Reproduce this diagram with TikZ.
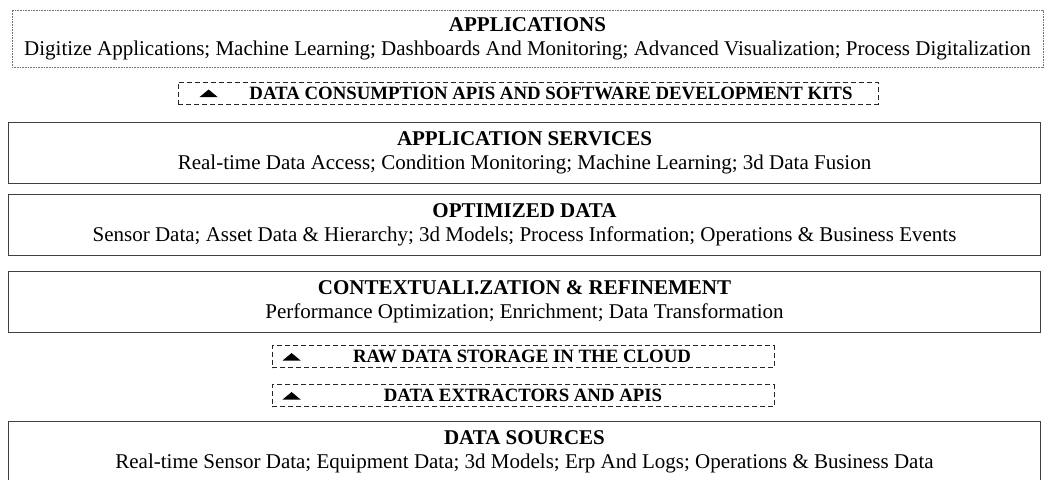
\documentclass[tikz,border=0pt]{standalone}
\usepackage{fontspec}
\setmainfont{Liberation Serif}
\usepackage{tikz}
\usetikzlibrary{calc}

\begin{document}
\begin{tikzpicture}[x=1pt, y=-1pt,
  layer/.style={draw=black!75, line width=0.9pt, minimum width=1032pt, minimum height=61pt,
    inner sep=0pt, align=center, font=\fontsize{21}{24}\selectfont},
  bar/.style={draw=black!85, dash pattern=on 5pt off 3pt, line width=0.8pt, minimum height=22pt, inner sep=0pt},
  barlbl/.style={font=\fontsize{18.8}{20}\selectfont\bfseries, inner sep=0pt}]
\useasboundingbox (0,0) rectangle (1046,479);
% top layer, dotted frame
\node[layer, draw=black!55, dash pattern=on 0.8pt off 0.8pt, minimum width=1031pt, minimum height=57pt] (apps) at (527.5,38.5)
  {\textbf{APPLICATIONS}\\Digitize Applications; Machine Learning; Dashboards And Monitoring; Advanced Visualization; Process Digitalization};
% solid layers
\foreach \n/\y/\t/\b in {
  appsvc/152.5/APPLICATION SERVICES/Real-time Data Access; Condition Monitoring; Machine Learning; 3d Data Fusion,
  optdata/225/OPTIMIZED DATA/Sensor Data; Asset Data \& Hierarchy; 3d Models; Process Information; Operations \& Business Events,
  context/301.5/CONTEXTUALI.ZATION \& REFINEMENT/Performance Optimization; Enrichment; Data Transformation,
  sources/451.5/DATA SOURCES/Real-time Sensor Data; Equipment Data; 3d Models; Erp And Logs; Operations \& Business Data} {
  \node[layer] (\n) at (524.5,\y) {\textbf{\t}\\\b};
}
% dashed bars with a small triangle on the left
\foreach \n/\x/\w/\y/\lx/\d/\t in {
  consume/528/700/93/551/22/DATA CONSUMPTION APIS AND SOFTWARE DEVELOPMENT KITS,
  rawstore/523/502/356.5/522/11/RAW DATA STORAGE IN THE CLOUD,
  extract/523/502/395.5/523/11/DATA EXTRACTORS AND APIS} {
  \node[bar, minimum width=\w pt] (\n) at (\x,\y) {};
  \node[barlbl] (\n-lbl) at (\lx,\y) {\t};
  \fill ($(\n.west)+(\d,4)$) -- ++(18,0) -- ++(-9,-7.5) -- cycle;
}
\end{tikzpicture}
\end{document}
